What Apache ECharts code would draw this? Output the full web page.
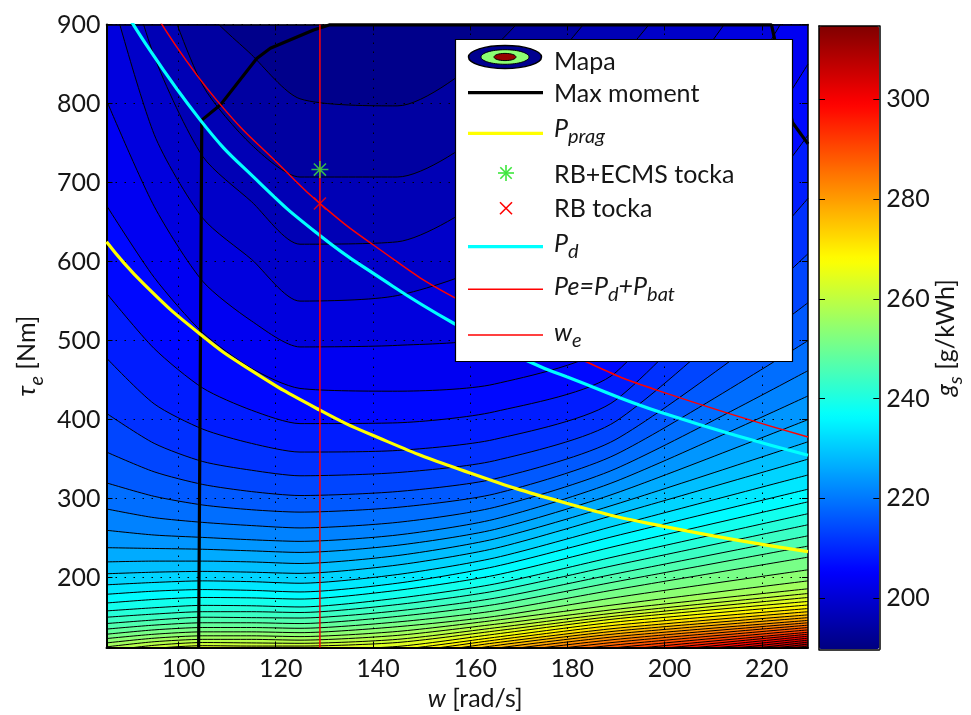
<!DOCTYPE html>
<html><head><meta charset="utf-8">
<script src="https://cdn.jsdelivr.net/npm/echarts@6/dist/echarts.min.js"></script>
<style>html,body{margin:0;padding:0;background:#fff}#c{width:971px;height:715px}</style>
</head><body><div id="c"></div>
<script>
// ---------- data ----------
const wNodes = [85.2, 95, 105, 115, 125, 145, 165, 190, 229.5];
const levels = [192.5,195,197.5,200,202.5,205,207.5,210,212.5,215,217.5,220,222.5,225,227.5,230,232.5,235,237.5,240,242.5,245,247.5,250,252.5,255,257.5,260,262.5,265,267.5,270,272.5,275,277.5,280,282.5,285,287.5,290,292.5,295,297.5,300,302.5,305,307.5,310];
// torque of each contour level at the w nodes
const contourTau = [
 [1250,1100,925,862,806,797,872,1050,1350],
 [1150,980,823,748,707,707,775,950,1250],
 [1060,860,733,676,622,625,690,850,1150],
 [960,761,655,603,550,557,600,720,1050],
 [804,670,575,525,492,494,505,580,960],
 [671,580,510,465,439.5,436,445,500,850],
 [560,490,440,412,395,396,410,460,760],
 [478,420,388,370,359,361,375,425,680],
 [408,370,347,336,329,333,348,398,610],
 [359,334,318,309,304,309,325,375,548],
 [320,303,292,286,283,289,306,356,500],
 [287,276,270,266,263,270,289,338,462],
 [260,254,251,248,246,254,274,322,430],
 [238,237,236,234,232,241,261,307,400],
 [220,221,221,220,218,228,249,293,372],
 [205,207,208,207,205.5,216,237,280,350],
 [191,194,196,195,193,204,225,266,330],
 [179,183,185,184,182,193,214,253,312],
 [168,172.5,175,174.5,173,184,203,240,296],
 [158,162,165,164.5,163,174,192,227,281],
 [150,154,157,157,156,166,183,216,267],
 [142,146.5,150,149.5,149,158,174,205,253],
 [135,140,143,143,142,151,166,195,240],
 [128.5,134,137,137,136,144,158,185,226],
 [123,128.5,131.5,131.5,130.5,138,151,175,210],
 [117.5,123.5,126.5,126.5,125.5,132,146,166,196],
 [112.5,119,122,122,121,127,141,160,186],
 [107.5,114.5,118,117.5,117,122,136.5,155.5,180],
 [103,110.5,114,113.5,113.5,118,132.5,151.5,175],
 [98,106,110,109.5,109,113,128.5,148,170],
 [93,101.5,106,105,104,109,124.5,144,165.5],
 [89,96,101,100,99,105,121,140,161],
 [84,91,96,95,94,101,117.5,136,157],
 [79,86,91,90,89,96,114,132.5,153],
 [74,81,86,85,84,92,110.5,129,149.5],
 [69,76,81,80,79,87,107,125.5,146],
 [64,71,76,75,74,83,103.5,122,143],
 [59,66,71,70,69,78,100,118.5,140],
 [54,61,66,65,64,74,96.5,115,137],
 [49,56,61,60,59,69,93,111.5,134],
 [44,51,56,55,54,65,89.5,108,131],
 [39,46,51,50,49,60,86,104.5,128.5],
 [34,41,46,45,44,56,82.5,101,126],
 [29,36,41,40,39,51,79,97.5,123.5],
 [24,31,36,35,34,47,75.5,94,121],
 [19,26,31,30,29,42,72,90.5,118.5],
 [14,21,26,25,24,38,68.5,87,116],
 [9,16,21,20,19,33,65,83.5,113.5]
];
const maxMomentW   = [104.15, 104.8, 108.6, 116.1, 118.9, 127.8, 131, 170, 222, 226.3, 229.5];
const maxMomentTau = [111.7, 779, 798, 857, 870, 893, 899.5, 899.5, 899.5, 776, 749];
const pPragW   = [85.2, 92.8, 104.5, 114.8, 129.1, 140.8, 157.9, 180, 199.8, 229.5];
const pPragTau = [625, 572, 508, 463, 412, 378, 337, 294, 265, 233];
const pDW   = [90, 104.5, 116.8, 129.1, 140.1, 156.6, 173, 180, 199.8, 229.5];
const pDTau = [907, 779, 699, 633, 585, 522, 471, 454, 408, 355];
const peW   = [96, 107.9, 122.3, 129.1, 140.1, 156.6, 184.7, 198.4, 229.5];
const peTau = [906, 804, 713, 673.5, 621, 555, 471, 437.4, 378];
const weValue = 129.1;
const rbPoint = [129.1, 673.5];
const ecmsPoint = [129.1, 716.5];
const xTicks = [100, 120, 140, 160, 180, 200, 220];
const yTicks = [200, 300, 400, 500, 600, 700, 800, 900];
const cbarTicks = [200, 220, 240, 260, 280, 300];
const X_MIN = 85.2, X_MAX = 229.5, Y_MIN = 111.7, Y_MAX = 900, G_MIN = 189.7, G_MAX = 314.7;

// ---------- styling helpers ----------
const FONT = 'Lato';
const TXT = '#161616';
function jetRGB(v) {
  const p = (v - G_MIN) / (G_MAX - G_MIN);
  const c = x => Math.max(0, Math.min(1, x));
  const r = c(Math.min(4 * p - 1.5, -4 * p + 4.5));
  const g = c(Math.min(4 * p - 0.5, -4 * p + 3.5));
  const b = c(Math.min(4 * p + 0.5, -4 * p + 2.5));
  return 'rgb(' + Math.round(r * 255) + ',' + Math.round(g * 255) + ',' + Math.round(b * 255) + ')';
}
const jetStops = ['#000080', '#0000ff', '#0080ff', '#00ffff', '#80ff80', '#ffff00', '#ff8000', '#ff0000', '#800000'];

const rich = {
  n: { fontSize: 25, fontFamily: FONT, color: TXT, lineHeight: 28, verticalAlign: 'top' },
  i: { fontSize: 25, fontFamily: FONT, fontStyle: 'italic', color: TXT, lineHeight: 28, verticalAlign: 'top' },
  s: { fontSize: 20, fontFamily: FONT, fontStyle: 'italic', color: TXT, lineHeight: 20, verticalAlign: 'top', padding: [12, 0, 0, 0] }
};
const legRich = {
  n: { fontSize: 25, fontFamily: FONT, fill: TXT, lineHeight: 26, verticalAlign: 'top' },
  i: { fontSize: 25, fontFamily: FONT, fontStyle: 'italic', fill: TXT, lineHeight: 26, verticalAlign: 'top' },
  s: { fontSize: 20, fontFamily: FONT, fontStyle: 'italic', fill: TXT, lineHeight: 20, verticalAlign: 'top', padding: [11, 0, 0, 0] }
};

const zip = (a, b) => a.map((v, k) => [v, b[k]]);

// ---------- series ----------
const series = [];
levels.forEach((L, i) => {
  const upper = i + 1 < levels.length ? levels[i + 1] : G_MAX;
  series.push({
    type: 'line', xAxisIndex: 0, yAxisIndex: 0, z: 2, silent: true,
    data: wNodes.map((w, j) => [w, contourTau[i][j]]),
    symbol: 'none', showSymbol: false, smooth: 0.25,
    lineStyle: { color: '#000', width: 1 },
    areaStyle: { color: jetRGB((L + upper) / 2), opacity: 1, origin: 'start' }
  });
});
const lineBase = { type: 'line', xAxisIndex: 0, yAxisIndex: 0, z: 12, symbol: 'none', showSymbol: false, silent: true };
series.push(Object.assign({}, lineBase, { name: 'Max moment', data: zip(maxMomentW, maxMomentTau), lineStyle: { color: '#000', width: 3.2 } }));
series.push(Object.assign({}, lineBase, { name: 'P_prag', data: zip(pPragW, pPragTau), smooth: true, lineStyle: { color: '#ffff00', width: 3.2 } }));
series.push(Object.assign({}, lineBase, { name: 'P_d', data: zip(pDW, pDTau), smooth: true, lineStyle: { color: '#00ffff', width: 3.2 } }));
series.push(Object.assign({}, lineBase, { name: 'Pe', data: zip(peW, peTau), smooth: true, lineStyle: { color: '#ff0000', width: 1.5 } }));
series.push(Object.assign({}, lineBase, { name: 'w_e', data: [[weValue, Y_MIN], [weValue, Y_MAX]], lineStyle: { color: '#ff0000', width: 1.5 } }));
series.push({
  type: 'scatter', xAxisIndex: 0, yAxisIndex: 0, z: 13, silent: true, name: 'RB+ECMS tocka',
  data: [ecmsPoint], symbol: 'path://M8,0L8,16M0,8L16,8M2.3,2.3L13.7,13.7M13.7,2.3L2.3,13.7', symbolSize: 17,
  itemStyle: { color: 'rgba(0,0,0,0)', borderColor: '#3ce63c', borderWidth: 1.6 }
});
series.push({
  type: 'scatter', xAxisIndex: 0, yAxisIndex: 0, z: 13, silent: true, name: 'RB tocka',
  data: [rbPoint], symbol: 'path://M0,0L10,10M10,0L0,10', symbolSize: 12,
  itemStyle: { color: 'rgba(0,0,0,0)', borderColor: '#ff0000', borderWidth: 1.6 }
});
// dummy series that the colour bar (visualMap) is attached to
series.push({ type: 'scatter', xAxisIndex: 2, yAxisIndex: 2, data: [], silent: true });
const cbarSeriesIndex = series.length - 1;

// ---------- axes ----------
const blackLine = { color: '#000', width: 2 };
const dotted = { color: '#000', width: 1, type: [1.5, 7.5] };
const option = {
  animation: false,
  backgroundColor: '#fff',
  textStyle: { fontFamily: FONT },
  grid: [
    { left: 106.5, right: 163, top: 24.5, bottom: 67.5, show: true, backgroundColor: jetRGB((G_MIN + levels[0]) / 2), borderWidth: 0, outerBoundsMode: 'none', containLabel: false },
    { left: 819, right: 91.7, top: 26, bottom: 65.7, show: false, outerBoundsMode: 'none', containLabel: false }
  ],
  xAxis: [
    { gridIndex: 0, type: 'value', min: X_MIN, max: X_MAX, position: 'bottom', z: 10,
      axisLine: { show: true, onZero: false, lineStyle: blackLine },
      axisTick: { show: true, inside: true, length: 6, customValues: xTicks, lineStyle: { color: '#000', width: 1 } },
      axisLabel: { show: true, customValues: xTicks, fontSize: 25, fontFamily: FONT, color: TXT, margin: 9, padding: [0, 0, 0, 10] },
      splitLine: { show: true, lineStyle: dotted },
      name: '{i|w}{n| [rad/s]}', nameLocation: 'middle', nameGap: 33,
      nameTextStyle: { rich: rich, padding: [0, 0, 0, 36] } },
    { gridIndex: 0, type: 'value', min: X_MIN, max: X_MAX, position: 'top', z: 10,
      axisLine: { show: true, onZero: false, lineStyle: { color: '#000', width: 1.5 } },
      axisTick: { show: true, inside: true, length: 6, customValues: xTicks, lineStyle: { color: '#000', width: 1 } },
      axisLabel: { show: false }, splitLine: { show: false } },
    { gridIndex: 1, type: 'value', min: 0, max: 1, position: 'bottom', z: 10,
      axisLine: { show: true, onZero: false, lineStyle: { color: '#000', width: 1.5 } },
      axisTick: { show: false }, axisLabel: { show: false }, splitLine: { show: false } },
    { gridIndex: 1, type: 'value', min: 0, max: 1, position: 'top', z: 10,
      axisLine: { show: true, onZero: false, lineStyle: { color: '#000', width: 1.5 } },
      axisTick: { show: false }, axisLabel: { show: false }, splitLine: { show: false } }
  ],
  yAxis: [
    { gridIndex: 0, type: 'value', min: Y_MIN, max: Y_MAX, position: 'left', z: 10,
      axisLine: { show: true, onZero: false, lineStyle: blackLine },
      axisTick: { show: true, inside: true, length: 6, customValues: yTicks, lineStyle: { color: '#000', width: 1 } },
      axisLabel: { show: true, customValues: yTicks, fontSize: 25, fontFamily: FONT, color: TXT, margin: 6 },
      splitLine: { show: true, lineStyle: dotted },
      name: '{i|τ}{s|e}{n| [Nm]}', nameLocation: 'middle', nameGap: 58,
      nameTextStyle: { rich: rich, padding: [0, 40, 0, 0] } },
    { gridIndex: 0, type: 'value', min: Y_MIN, max: Y_MAX, position: 'right', z: 10,
      axisLine: { show: true, onZero: false, lineStyle: { color: '#000', width: 1.5 } },
      axisTick: { show: true, inside: true, length: 6, customValues: yTicks, lineStyle: { color: '#000', width: 1 } },
      axisLabel: { show: false }, splitLine: { show: false } },
    { gridIndex: 1, type: 'value', min: G_MIN, max: G_MAX, position: 'right', z: 10,
      axisLine: { show: true, onZero: false, lineStyle: { color: '#000', width: 1.5 } },
      axisTick: { show: true, inside: true, length: 6, customValues: cbarTicks, lineStyle: { color: '#000', width: 1 } },
      axisLabel: { show: true, customValues: cbarTicks, fontSize: 25, fontFamily: FONT, color: TXT, margin: 7 },
      splitLine: { show: false },
      name: '{i|g}{s|s}{n| [g/kWh]}', nameLocation: 'middle', nameGap: 52,
      nameTextStyle: { rich: rich } },
    { gridIndex: 1, type: 'value', min: G_MIN, max: G_MAX, position: 'left', z: 10,
      axisLine: { show: true, onZero: false, lineStyle: { color: '#000', width: 1.5 } },
      axisTick: { show: true, inside: true, length: 6, customValues: cbarTicks, lineStyle: { color: '#000', width: 1 } },
      axisLabel: { show: false }, splitLine: { show: false } }
  ],
  visualMap: [{
    type: 'continuous', seriesIndex: [cbarSeriesIndex], min: G_MIN, max: G_MAX,
    left: 819, top: 26, itemWidth: 60.3, itemHeight: 623.3, padding: 0,
    calculable: false, hoverLink: false, realtime: false, text: null, showLabel: false,
    inRange: { color: jetStops }
  }],
  series: series,
  graphic: { elements: [] }
};

// ---------- legend box ----------
const G = option.graphic.elements;
const LX1 = 468, LX2 = 543, TX = 554, MX = 506;
G.push({ type: 'rect', z: 100, shape: { x: 455.5, y: 39.5, width: 337, height: 322 }, style: { fill: '#fff', stroke: '#000', lineWidth: 1.2 } });
// Mapa icon
G.push({ type: 'ellipse', z: 101, shape: { cx: 505, cy: 57, rx: 36.5, ry: 11.5 }, style: { fill: '#00008f', stroke: '#000', lineWidth: 1.5 } });
G.push({ type: 'ellipse', z: 102, shape: { cx: 505, cy: 57, rx: 24, ry: 7.3 }, style: { fill: '#8cff73', stroke: '#000', lineWidth: 1 } });
G.push({ type: 'ellipse', z: 103, shape: { cx: 505, cy: 57, rx: 11, ry: 3.6 }, style: { fill: '#960000', stroke: '#000', lineWidth: 1 } });
function legLine(y, color, w) { G.push({ type: 'line', z: 101, shape: { x1: LX1, y1: y, x2: LX2, y2: y }, style: { stroke: color, lineWidth: w } }); }
legLine(92.7, '#000', 3.2);
legLine(133.3, '#ffff00', 3.2);
legLine(246.7, '#00ffff', 3.2);
legLine(289.3, '#ff0000', 1.5);
legLine(335, '#ff0000', 1.5);
// asterisk
[[MX, 165, MX, 181], [MX - 8, 173, MX + 8, 173], [MX - 5.7, 167.3, MX + 5.7, 178.7], [MX + 5.7, 167.3, MX - 5.7, 178.7]].forEach(s =>
  G.push({ type: 'line', z: 101, shape: { x1: s[0], y1: s[1], x2: s[2], y2: s[3] }, style: { stroke: '#3ce63c', lineWidth: 1.6 } }));
// cross
[[MX - 6, 202.3, MX + 6, 214.3], [MX + 6, 202.3, MX - 6, 214.3]].forEach(s =>
  G.push({ type: 'line', z: 101, shape: { x1: s[0], y1: s[1], x2: s[2], y2: s[3] }, style: { stroke: '#ff0000', lineWidth: 1.6 } }));
function legText(y, text) {
  G.push({ type: 'text', z: 101, x: TX, y: y, style: { text: text, rich: legRich, align: 'left', verticalAlign: 'top', fill: TXT, fontSize: 25, fontFamily: FONT } });
}
legText(49, '{n|Mapa}');
legText(81, '{n|Max moment}');
legText(116, '{i|P}{s|prag}');
legText(162, '{n|RB+ECMS tocka}');
legText(196, '{n|RB tocka}');
legText(231, '{i|P}{s|d}');
legText(274, '{i|Pe=P}{s|d}{i|+P}{s|bat}');
legText(320, '{i|w}{s|e}');

const chart = echarts.init(document.getElementById('c'));
chart.setOption(option);
</script></body></html>
